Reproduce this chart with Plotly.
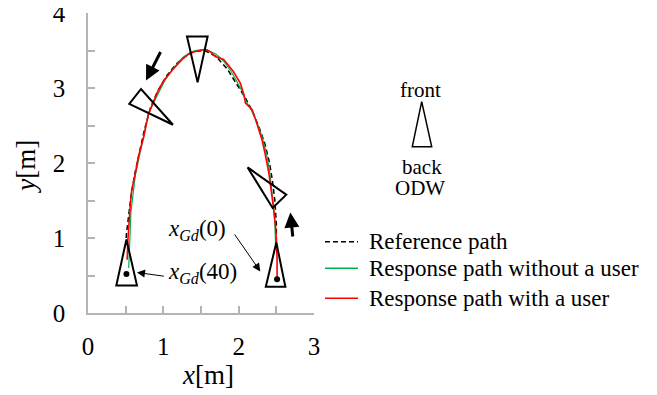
import plotly.graph_objects as go

# ---------------- data ----------------
series_names = ["Reference path", "Response path without a user", "Response path with a user"]

ref_x = [2.50, 2.50, 2.48, 2.45, 2.41, 2.35, 2.28, 2.20, 2.10, 1.98, 1.85, 1.70, 1.55,
         1.42, 1.30, 1.17, 1.05, 0.93, 0.83, 0.75, 0.68, 0.62, 0.57, 0.53, 0.51, 0.50]
ref_y = [0.95, 1.20, 1.50, 1.75, 2.00, 2.25, 2.45, 2.65, 2.85, 3.05, 3.25, 3.42, 3.50,
         3.49, 3.43, 3.32, 3.17, 2.97, 2.74, 2.45, 2.15, 1.85, 1.55, 1.25, 1.05, 0.90]

green_x = [2.49, 2.48, 2.46, 2.44, 2.41, 2.37, 2.31, 2.24, 2.16, 2.10, 2.05, 1.97,
           1.90, 1.80, 1.70, 1.60, 1.50, 1.42, 1.35, 1.25, 1.13, 1.02, 0.90, 0.80,
           0.74, 0.68, 0.63, 0.60, 0.57, 0.56, 0.55, 0.54]
green_y = [0.90, 1.20, 1.45, 1.65, 1.90, 2.12, 2.35, 2.55, 2.72, 2.82, 2.95, 3.10,
           3.22, 3.36, 3.45, 3.50, 3.51, 3.50, 3.47, 3.40, 3.26, 3.10, 2.85, 2.66,
           2.36, 2.10, 1.85, 1.60, 1.35, 1.10, 0.85, 0.60]

red_x = [2.51, 2.51, 2.50, 2.49, 2.46, 2.43, 2.40, 2.35, 2.31, 2.24, 2.18, 2.09,
         2.07, 2.02, 1.93, 1.80, 1.69, 1.64, 1.58, 1.53, 1.45, 1.36, 1.25, 1.17,
         1.12, 1.00, 0.93, 0.87, 0.80, 0.74, 0.67, 0.63, 0.58, 0.56, 0.54, 0.53, 0.52]
red_y = [0.47, 0.71, 0.98, 1.15, 1.42, 1.64, 1.87, 2.13, 2.31, 2.53, 2.71, 2.80,
         2.91, 3.07, 3.22, 3.38, 3.42, 3.47, 3.51, 3.51, 3.49, 3.47, 3.38, 3.30,
         3.24, 3.09, 2.96, 2.82, 2.64, 2.35, 2.09, 1.87, 1.64, 1.42, 1.15, 0.98, 0.71]

# ODW reference points x_Gd(0) and x_Gd(40)
odw_pt_x = [2.51, 0.51]
odw_pt_y = [0.45, 0.52]

x_ticks = [0, 1, 2, 3]
y_ticks = [0, 1, 2, 3, 4]

# ODW triangles (vertices in data units)
triangles = [
    [(2.50, 0.94), (2.36, 0.35), (2.62, 0.35)],
    [(0.51, 0.98), (0.376, 0.368), (0.65, 0.368)],
    [(1.455, 3.075), (1.314, 3.688), (1.588, 3.688)],
    [(1.128, 2.51), (0.704, 2.987), (0.548, 2.787)],
    [(2.119, 1.941), (2.632, 1.577), (2.451, 1.40)],
]

FONT = "Liberation Serif, Times New Roman, serif"
AXCOL = "#b4b4b4"
DASH = "5px,3px"

fig = go.Figure()
fig.add_trace(go.Scatter(x=ref_x, y=ref_y, mode="lines", name=series_names[0],
                         line=dict(color="black", width=1.5, dash=DASH)))
fig.add_trace(go.Scatter(x=green_x, y=green_y, mode="lines", name=series_names[1],
                         line=dict(color="#00b050", width=1.2)))
fig.add_trace(go.Scatter(x=red_x, y=red_y, mode="lines", name=series_names[2],
                         line=dict(color="#ff0000", width=1.6)))
fig.add_trace(go.Scatter(x=odw_pt_x, y=odw_pt_y, mode="markers", showlegend=False,
                         marker=dict(color="black", size=6)))

shapes = []
for tri in triangles:
    path = "M {} {} L {} {} L {} {} Z".format(*[c for p in tri for c in p])
    shapes.append(dict(type="path", path=path, xref="x", yref="y",
                       line=dict(color="black", width=2)))

# The page body has an 8px margin, so the figure is made 8px smaller
OFF = 8
W, H = 649, 387
L, R, T, B = 80, 343, 5, 82
PW, PH = W - L - R, H - T - B


def px(xp):  # absolute window pixel -> paper
    return (xp - OFF - L) / PW


def py(yp):
    return (H - B - (yp - OFF)) / PH


# legend (drawn manually)
leg_y = [241.7, 268.3, 298.3]
leg_style = [dict(color="black", width=1.5, dash=DASH),
             dict(color="#00b050", width=1.5),
             dict(color="#ff0000", width=1.5)]
annotations = []
for name, yy, st in zip(series_names, leg_y, leg_style):
    shapes.append(dict(type="line", xref="paper", yref="paper", x0=px(325), x1=px(358),
                       y0=py(yy), y1=py(yy), line=st))
    annotations.append(dict(text=name, xref="paper", yref="paper", x=px(367), y=py(yy),
                            xanchor="left", yanchor="middle", showarrow=False,
                            font=dict(family=FONT, size=23, color="black")))

# ODW legend icon
shapes.append(dict(type="path", xref="paper", yref="paper",
                   path="M {} {} L {} {} L {} {} Z".format(px(421.7), py(101.7), px(412.3), py(146.7),
                                                           px(431.7), py(146.7)),
                   line=dict(color="black", width=1.5)))
for txt, xx, yy in [("front", 420.7, 90), ("back", 421.7, 166.7), ("ODW", 420.0, 188)]:
    annotations.append(dict(text=txt, xref="paper", yref="paper", x=px(xx), y=py(yy),
                            xanchor="center", yanchor="middle", showarrow=False,
                            font=dict(family=FONT, size=21, color="black")))

# axis titles
annotations.append(dict(text="<i>x</i>[m]", xref="paper", yref="paper", x=px(208), y=py(375),
                        xanchor="center", yanchor="middle", showarrow=False,
                        font=dict(family=FONT, size=27, color="black")))
annotations.append(dict(text="<i>y</i>[m]", xref="paper", yref="paper", x=px(25.7), y=py(167),
                        xanchor="center", yanchor="middle", showarrow=False, textangle=-90,
                        font=dict(family=FONT, size=27, color="black")))

# x_Gd labels
annotations.append(dict(text="<i>x</i><sub><i>Gd</i></sub>(0)", xref="x", yref="y", x=1.04, y=1.11,
                        xanchor="left", yanchor="middle", showarrow=False,
                        font=dict(family=FONT, size=23, color="black")))
annotations.append(dict(text="<i>x</i><sub><i>Gd</i></sub>(40)", xref="x", yref="y", x=1.04, y=0.537,
                        xanchor="left", yanchor="middle", showarrow=False,
                        font=dict(family=FONT, size=23, color="black")))

# arrows (head at x,y ; tail at ax,ay)
arrows = [
    (0.77, 3.10, 0.973, 3.50, 3, 1.0),
    (2.686, 1.34, 2.72, 1.0, 3, 1.0),
    (2.287, 0.555, 1.933, 1.067, 1, 1.6),
    (0.65, 0.541, 1.026, 0.488, 1, 1.6),
]
for hx, hy, tx, ty, w, s in arrows:
    annotations.append(dict(text="", x=hx, y=hy, ax=tx, ay=ty, xref="x", yref="y",
                            axref="x", ayref="y", showarrow=True, arrowhead=2,
                            arrowwidth=w, arrowsize=s, arrowcolor="black", standoff=0,
                            startstandoff=0))

axis_common = dict(showline=True, linecolor=AXCOL, linewidth=1.5, showgrid=False, zeroline=False,
                   ticks="inside", ticklen=7, tickcolor=AXCOL, tickwidth=1.5, automargin=False,
                   ticklabeloverflow="allow",
                   tickfont=dict(family=FONT, size=25, color="black"),
                   minor=dict(dtick=0.5, ticks="inside", ticklen=7, tickcolor=AXCOL, tickwidth=1.5,
                              showgrid=False))

fig.update_layout(
    width=W, height=H, margin=dict(l=L, r=R, t=T, b=B, autoexpand=False),
    plot_bgcolor="white", paper_bgcolor="white", showlegend=False,
    xaxis=dict(range=[0, 3], tickvals=x_ticks, ticklabelstandoff=10, **axis_common),
    yaxis=dict(range=[0, 4], tickvals=y_ticks, ticklabelstandoff=16, **axis_common),
    shapes=shapes, annotations=annotations,
)

fig.write_html("out.html")
